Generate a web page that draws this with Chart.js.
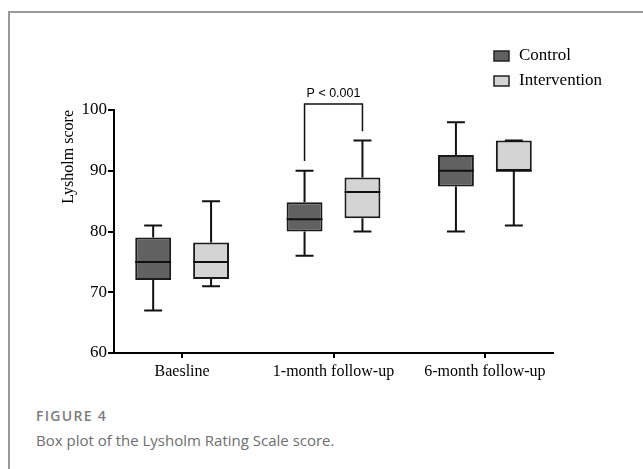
<!DOCTYPE html>
<html>
<head>
<meta charset="utf-8">
<script src="https://cdn.jsdelivr.net/npm/chart.js@4.4.0/dist/chart.umd.min.js"></script>
<style>
  body { margin: 0; background: #fff; width: 643px; height: 469px; overflow: hidden; position: relative; }
  #frame { position: absolute; left: 8px; top: 11px; width: 700px; height: 500px;
           border-left: 2px solid #9a9a9a; border-top: 2px solid #9a9a9a; }
  #chart { position: absolute; left: 0; top: 0; }
  .fig { position: absolute; left: 36px; top: 406px; font-family: "Open Sans", sans-serif;
         font-size: 14px; font-weight: 600; color: #7d7d7d; letter-spacing: 1.3px; }
  .cap { position: absolute; left: 36px; top: 430px; font-family: "Open Sans", sans-serif;
         font-size: 15px; color: #6e6e6e; }
</style>
</head>
<body>
<div id="frame"></div>
<canvas id="chart" width="643" height="395"></canvas>
<div class="fig">FIGURE 4</div>
<div class="cap">Box plot of the Lysholm Rating Scale score.</div>
<script>
// categories and box statistics
var categories = ['Baesline', '1-month follow-up', '6-month follow-up'];

var controlMin    = [67, 76, 80];
var controlQ1     = [72, 80, 87.4];
var controlMedian = [75, 82, 90];
var controlQ3     = [79, 84.8, 92.6];
var controlMax    = [81, 90, 98];

var interventionMin    = [71, 80, 81];
var interventionQ1     = [72.2, 82.2, 90];
var interventionMedian = [75, 86.5, 90];
var interventionQ3     = [78.2, 88.9, 95];
var interventionMax    = [85, 95, 95];

var yTicks = [60, 70, 80, 90, 100];

// significance bracket over 1-month group (value units)
var pCategory = 1;
var pLabel = 'P < 0.001';
var pBracketTop = 101;
var pLegEnds = [91.6, 96.5];

var serif = "'Liberation Serif', 'Times New Roman', serif";

function boxData(q1, q3) {
    var out = [];
    for (var i = 0; i < categories.length; i++) {
        out.push({x: i, y: [q1[i], q3[i]]});
    }
    return out;
}

var stats = [
    {min: controlMin, med: controlMedian, max: controlMax, q1: controlQ1, q3: controlQ3},
    {min: interventionMin, med: interventionMedian, max: interventionMax, q1: interventionQ1, q3: interventionQ3}
];

var boxPlugin = {
    id: 'boxExtras',
    afterDatasetsDraw: function(chart) {
        var ctx = chart.ctx;
        var yScale = chart.scales.y;
        ctx.save();
        ctx.strokeStyle = '#111';
        ctx.lineWidth = 2;
        for (var d = 0; d < chart.data.datasets.length; d++) {
            var meta = chart.getDatasetMeta(d);
            var s = stats[d];
            meta.data.forEach(function(el, i) {
                var x = el.x, half = el.width / 2, cap = el.width / 4;
                var yMin = yScale.getPixelForValue(s.min[i]);
                var yMax = yScale.getPixelForValue(s.max[i]);
                var yQ1 = yScale.getPixelForValue(s.q1[i]);
                var yQ3 = yScale.getPixelForValue(s.q3[i]);
                var yMed = yScale.getPixelForValue(s.med[i]);
                ctx.beginPath();
                ctx.moveTo(x, yQ3); ctx.lineTo(x, yMax);
                ctx.moveTo(x - cap, yMax); ctx.lineTo(x + cap, yMax);
                ctx.moveTo(x, yQ1); ctx.lineTo(x, yMin);
                ctx.moveTo(x - cap, yMin); ctx.lineTo(x + cap, yMin);
                ctx.moveTo(x - half, yMed); ctx.lineTo(x + half, yMed);
                ctx.stroke();
            });
        }

        // p-value bracket
        var left = chart.getDatasetMeta(0).data[pCategory].x;
        var right = chart.getDatasetMeta(1).data[pCategory].x;
        var top = yScale.getPixelForValue(pBracketTop);
        ctx.lineWidth = 1.5;
        ctx.beginPath();
        ctx.moveTo(left, yScale.getPixelForValue(pLegEnds[0]));
        ctx.lineTo(left, top);
        ctx.lineTo(right, top);
        ctx.lineTo(right, yScale.getPixelForValue(pLegEnds[1]));
        ctx.stroke();
        ctx.fillStyle = '#000';
        ctx.font = "12.5px 'Liberation Sans', Arial, sans-serif";
        ctx.textAlign = 'center';
        ctx.textBaseline = 'middle';
        ctx.fillText(pLabel, chart.scales.x.getPixelForValue(pCategory), top - 10);

        // legend
        ctx.font = '17px ' + serif;
        ctx.textAlign = 'left';
        chart.data.datasets.forEach(function(ds, k) {
            var ly = 51 + k * 25;
            ctx.fillStyle = ds.backgroundColor;
            ctx.fillRect(494, ly, 15, 10);
            ctx.lineWidth = 1.5;
            ctx.strokeStyle = '#222';
            ctx.strokeRect(494, ly, 15, 10);
            ctx.fillStyle = '#000';
            ctx.fillText(ds.label, 519, ly + 5);
        });
        ctx.restore();
    }
};

Chart.defaults.font.family = serif;
Chart.defaults.color = '#000';

var ctx = document.getElementById('chart');
new Chart(ctx, {
    type: 'bar',
    data: {
        datasets: [
            {
                label: 'Control',
                data: boxData(controlQ1, controlQ3),
                backgroundColor: '#616161',
                borderColor: '#1a1a1a',
                borderWidth: 2,
                borderSkipped: false
            },
            {
                label: 'Intervention',
                data: boxData(interventionQ1, interventionQ3),
                backgroundColor: '#d4d4d4',
                borderColor: '#1a1a1a',
                borderWidth: 2,
                borderSkipped: false
            }
        ]
    },
    options: {
        responsive: false,
        animation: false,
        categoryPercentage: 0.765,
        barPercentage: 0.62,
        layout: {padding: {left: 0, top: 110, right: 90, bottom: 0}},
        plugins: {
            legend: {display: false},
            tooltip: {enabled: false}
        },
        scales: {
            x: {
                type: 'linear',
                min: -0.45,
                max: 2.45,
                offset: false,
                afterBuildTicks: function(scale) {
                    scale.ticks = categories.map(function(c, i) { return {value: i}; });
                },
                afterFit: function(scale) { scale.height = 42; },
                ticks: {
                    autoSkip: false,
                    maxRotation: 0,
                    padding: 4,
                    font: {size: 16},
                    callback: function(v) { return categories[v]; }
                },
                grid: {offset: false, drawOnChartArea: false, drawTicks: true, tickLength: 5, color: '#000', lineWidth: 2},
                border: {color: '#000', width: 2}
            },
            y: {
                min: 60,
                max: 100,
                afterBuildTicks: function(scale) {
                    scale.ticks = yTicks.map(function(v) { return {value: v}; });
                },
                afterFit: function(scale) { scale.width = 114; },
                ticks: {padding: 1, font: {size: 17}},
                grid: {drawOnChartArea: false, drawTicks: true, tickLength: 6, color: '#000', lineWidth: 2},
                border: {color: '#000', width: 2},
                title: {
                    display: true,
                    text: 'Lysholm score',
                    align: 'end',
                    font: {size: 16},
                    padding: {top: 59, bottom: 0}
                }
            }
        }
    },
    plugins: [boxPlugin]
});
</script>
</body>
</html>
